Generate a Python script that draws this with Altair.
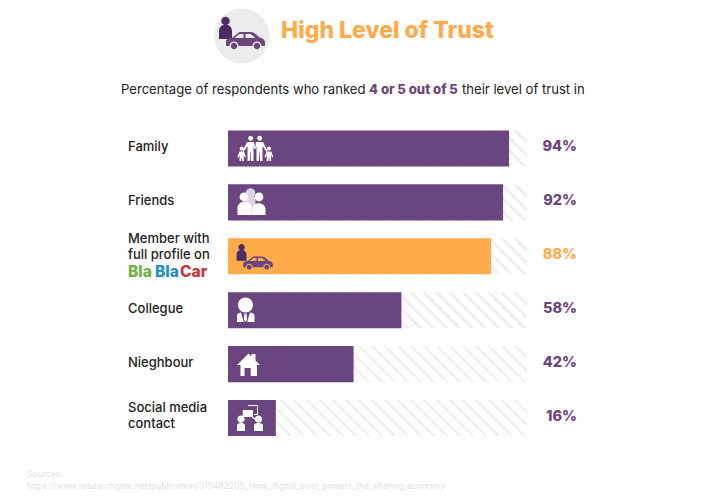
import altair as alt
import pandas as pd

CATEGORIES = ["Family", "Friends", "Member", "Collegue", "Nieghbour", "Social"]
LABELS = ["Family", "Friends", "Member with|full profile on", "Collegue", "Nieghbour", "Social media|contact"]
LABEL_DY = [-1.5, -1.5, -17.5, -1.5, -1.5, -10]
VALUES = [94, 92, 88, 58, 42, 16]
FULL = [100] * 6

PURPLE = "#6B4580"
DARK = "#4A2C66"
ORANGE = "#FFAB4A"
INK = "#222222"
STRIPE = "#EFEFEF"
FONT = "Inter"

df = pd.DataFrame({"cat": CATEGORIES, "label": LABELS, "dy": LABEL_DY, "value": VALUES, "full": FULL})
df["pct"] = df["value"].astype(str) + "%"

x_scale = alt.Scale(domain=[0, 100], range=[220, 519])
y_scale = alt.Scale(domain=CATEGORIES, range=[113.5, 437], paddingInner=0.332, paddingOuter=0.166)
X = alt.X("value:Q", scale=x_scale, axis=None)
Y = alt.Y("cat:N", scale=y_scale, axis=None, sort=None)

# Hatched track: a stepped linear gradient; t = (px - py + H) / (W + H)
W, H, PERIOD, BAND = 299.0, 36.0, 13.0, 3.8
stops, pos = [], 0.0
while pos < W + H:
    for a, col in ((pos, "#ffffff"), (pos + PERIOD - BAND, "#ffffff"), (pos + PERIOD - BAND, STRIPE), (pos + PERIOD, STRIPE)):
        stops.append({"offset": min(a / (W + H), 1.0), "color": col})
    pos += PERIOD
k = (W + H) / (W * W + H * H)
hatch = {"gradient": "linear", "x1": 0, "y1": 1, "x2": k * W, "y2": 1 - k * H, "stops": stops}

track = alt.Chart(df).mark_bar(fill=hatch, stroke=None).encode(
    x=alt.X("full:Q", scale=x_scale, axis=None), y=Y)
is_member = alt.datum.cat == "Member"
bars = alt.Chart(df).mark_bar().encode(
    x=X, y=Y, color=alt.condition(is_member, alt.value(ORANGE), alt.value(PURPLE)))
pct = alt.Chart(df).mark_text(align="right", baseline="middle", font=FONT, fontWeight=800, fontSize=14.5, dy=-1.5).encode(
    x=alt.value(569), y=Y, text="pct:N",
    color=alt.condition(is_member, alt.value(ORANGE), alt.value(PURPLE)))
cat_text = [
    alt.Chart(df[df.dy == d]).mark_text(align="left", baseline="middle", font=FONT, fontSize=13, fontWeight=500,
                                        color=INK, lineBreak="|", lineHeight=16, dy=d).encode(
        x=alt.value(120), y=Y, text="label:N")
    for d in sorted(set(LABEL_DY))
]


def text(s, x, y, size, color, weight=400, align="left"):
    return alt.Chart(pd.DataFrame({"t": [s]})).mark_text(
        align=align, baseline="middle", font=FONT, fontSize=size, fontWeight=weight, color=color
    ).encode(x=alt.value(x - 8), y=alt.value(y - 8), text="t:N")


def circ(cx, cy, r):
    return f"M{cx - r},{cy}A{r},{r} 0 1,1 {cx + r},{cy}A{r},{r} 0 1,1 {cx - r},{cy}Z"


def icon(path, x, y, color, scale=1.0):
    return alt.Chart(pd.DataFrame({"i": [0]})).mark_point(
        shape=path, filled=True, size=4 * scale * scale, color=color, opacity=1, strokeWidth=0
    ).encode(x=alt.value(x - 8), y=alt.value(y - 8))


CAR = ("M-19.5,5.5L-19.5,0Q-18,-2.5 -13,-3L-6,-8.5L6,-8.5Q9,-8 14,-3Q19.5,-2 19.5,2L19.5,5.5L16,5.5"
       "A4.5,4.5 0 0 0 7,5.5L-7,5.5A4.5,4.5 0 0 0 -16,5.5Z"
       "M-11,-2.5L-2,-2.5L-2,-6.5L-6,-6.5ZM0,-2.5L10,-2.5L5,-6.5L0,-6.5Z"
       + circ(-11.5, 5.5, 3.2) + circ(11.5, 5.5, 3.2))
PERSON = circ(0, -9, 4.2) + "M-6.5,9L-6.5,1A6.5,6.5 0 0 1 6.5,1L6.5,9Z"

FAMILY = (circ(-4.8, -10.7, 2.5) + circ(4.2, -10.7, 2.5) + circ(-13.8, -0.5, 2) + circ(13.5, -0.5, 2)
          + "M-8.5,-7L-1.5,-7L0,0L-1,0L-2,-3L-2,12L-4.5,12L-4.8,3L-5.2,3L-5.5,12L-8,12L-8,-3L-12,3L-13,2Z"
          + "M0.5,-7L7.5,-7L12,2L11,3L7,-3L7,12L4.5,12L4.2,3L3.8,3L3.5,12L1,12L1,-3L0,0L-0.5,0Z"
          + "M-16,2.5L-11.5,2.5L-9.5,8L-10.5,8.5L-11.7,6L-11.7,12L-13.3,12L-13.6,8.5L-14,8.5L-14.3,12L-16,12L-16,6L-17.3,8.5L-18.3,8Z"
          + "M11.3,2.5L15.8,2.5L17.8,8L16.8,8.5L15.6,6L15.6,12L14,12L13.7,8.5L13.3,8.5L13,12L11.3,12L11.3,6L10,8.5L9,8Z")
FRIEND_BACK = circ(0, -9, 4.8) + "M-5,13L-5,-2A5,5 0 0 1 5,-2L5,13Z"
FRIEND_FRONT = (circ(-7, -5, 4.4) + circ(8, -5, 4.4)
                + "M-13.5,13L-13.5,6A7,6.5 0 0 1 0.5,6L0.5,13Z M1,13L1,6A7,6.5 0 0 1 14.5,6L14.5,13Z")
COLLEAGUE = (circ(0, -5.5, 7.5)
             + "M-8.5,11.5L-8.5,5Q-8.5,2.5 -4.5,2L-1.7,11.5ZM9,11.5L9,5Q9,2.5 4.5,2L1.7,11.5Z"
             + "M-1,3L1,3L1.6,9L0,11.5L-1.6,9Z")
HOUSE = "M-11.5,0.5L0,-11L3,-8L3,-10.5L7,-10.5L7,-4L11.5,0.5L8.5,0.5L8.5,11.5L2.2,11.5L2.2,3.5L-4,3.5L-4,11.5L-8,11.5L-8,0.5Z"
SOCIAL = (circ(-7, 1.2, 3.6) + circ(10.5, 1.2, 3.6)
          + "M-11,13L-11,7.5Q-11,5 -7,5Q-3,5 -3,7.5L-3,13Z"
          + "M6,13L6,7.5Q6,5 10.5,5Q15,5 15,7.5L15,13Z"
          + "M-5.3,-8L5,-8L5,-1L-5.3,-1Z"
          + "M0,-13L10,-13L10,-3L6,-3L6,-4L9,-4L9,-12L0,-12Z"
          + "M-6,-1.5L-5,-0.8L-7.5,2L-8.5,1.2ZM4.5,-1.5L9.5,2L8.8,3L3.8,-0.5Z")

layers = [
    track, bars, pct, *cat_text,
    icon(circ(0, 0, 27.5), 242, 36, "#ECECEC"),
    icon(PERSON, 225.5, 30, DARK),
    icon(CAR, 245.5, 40.5, PURPLE),
    icon(PERSON, 241.5, 254, DARK, 0.76),
    icon(CAR, 258, 263, PURPLE, 0.76),
    icon(FAMILY, 255.5, 149, "#FFFFFF"),
    icon(FRIEND_BACK, 250.5, 202, "#D9D5E6"),
    icon(FRIEND_FRONT, 251, 202, "#FFFFFF"),
    icon(COLLEAGUE, 245.5, 310.5, "#FFFFFF"),
    icon(HOUSE, 248.5, 364.5, "#FFFFFF"),
    icon(SOCIAL, 248, 418, "#FFFFFF"),
    text("High Level of Trust", 281, 31, 23, ORANGE, 800),
    text("Percentage of respondents who ranked", 121, 89.5, 13.1, INK, 400),
    text("4 or 5 out of 5", 369, 89.5, 13.1, PURPLE, 800),
    text("their level of trust in", 462, 89.5, 13.1, INK, 400),
    text("Bla", 128, 272, 15.5, "#6DB33F", 800),
    text("Bla", 155, 272, 15.5, "#1E8FC6", 800),
    text("Car", 180, 272, 15.5, "#C8323A", 800),
    text("Sources:", 27, 474, 8.6, "#DDE3E8", 400),
    text("https://www.researchgate.net/publication/315483205_How_digital_trust_powers_the_sharing_economy",
         27, 486, 8.6, "#DDE3E8", 400),
]

chart = alt.layer(*layers).properties(
    width=685, height=486, padding=0, autosize=alt.AutoSizeParams(type="none"), background="white"
).configure_view(stroke=None)

chart.save("out.html", embed_options={"renderer": "svg", "actions": False})
